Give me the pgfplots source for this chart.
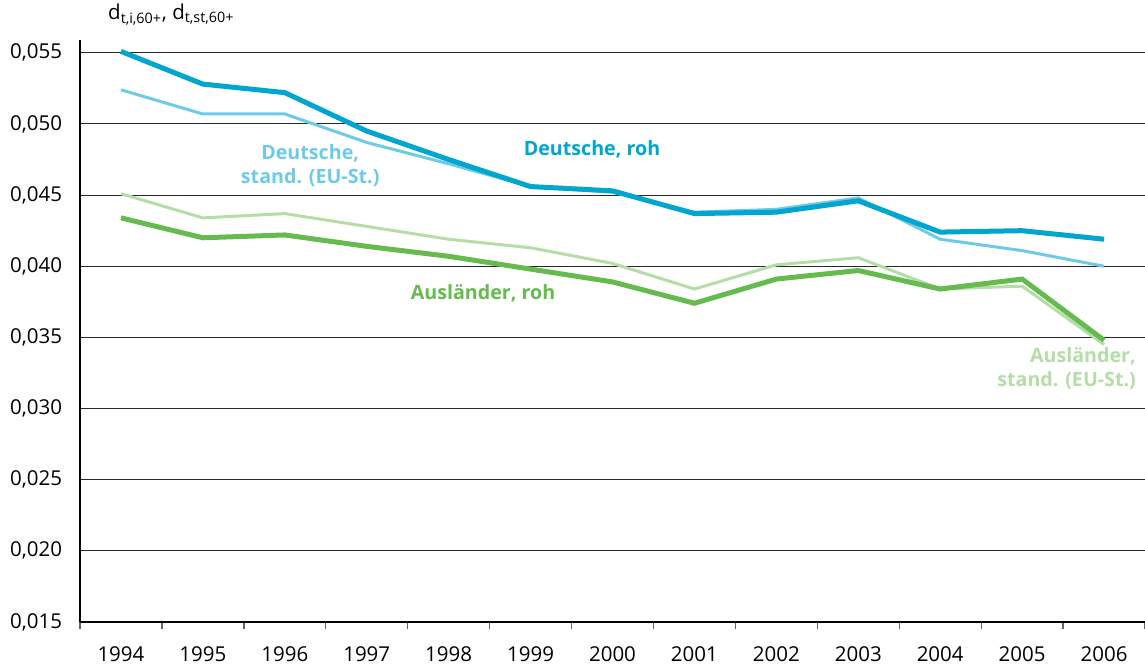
\documentclass[border=0pt]{standalone}
\usepackage{pgfplots}
\pgfplotsset{compat=1.18}
\usepackage{fontspec}
\setmainfont{Open Sans}
\definecolor{dblue}{RGB}{0,165,208}
\definecolor{lblue}{RGB}{110,203,232}
\definecolor{dgreen}{RGB}{102,187,79}
\definecolor{lgreen}{RGB}{181,221,168}
\definecolor{gridc}{RGB}{40,40,40}
\begin{document}
\begin{tikzpicture}
\useasboundingbox (-48pt,-29.4pt) rectangle (639pt,373.2pt);
\begin{axis}[
  at={(0,0)}, anchor=south west,
  scale only axis, width=639pt, height=349.2pt,
  xmin=-0.5, xmax=12.5, ymin=0.015, ymax=0.0559,
  axis x line*=bottom, axis y line*=left,
  axis line style={black, line width=0.8pt},
  xtick={0,...,12},
  xticklabels={1994,1995,1996,1997,1998,1999,2000,2001,2002,2003,2004,2005,2006},
  minor xtick={-0.5,0.5,...,12.5},
  major x tick style={draw=none},
  minor x tick style={gray!80!black, line width=0.8pt},
  minor tick length=4pt,
  tick align=outside,
  ytick={0.015,0.020,...,0.0551},
  major y tick style={draw=none},
  ymajorgrids, grid style={gridc, line width=0.6pt},
  yticklabel style={xshift=-3pt, /pgf/number format/fixed, /pgf/number format/fixed zerofill, /pgf/number format/precision=3, /pgf/number format/use comma, /pgf/number format/assume math mode=true},
  scaled y ticks=false,
  ticklabel style={font=\fontsize{12.3}{14}\selectfont},
  xticklabel style={yshift=-7pt},
  clip=false,
]
\addplot[lgreen, line width=1.8pt] coordinates {
(0,0.0451)(1,0.0434)(2,0.0437)(3,0.0428)(4,0.0419)(5,0.0413)(6,0.0402)(7,0.0384)(8,0.0401)(9,0.0406)(10,0.0384)(11,0.0386)(12,0.0345)};
\addplot[lblue, line width=1.8pt] coordinates {
(0,0.0524)(1,0.0507)(2,0.0507)(3,0.0487)(4,0.0472)(5,0.0456)(6,0.0452)(7,0.0438)(8,0.0440)(9,0.0448)(10,0.0419)(11,0.0411)(12,0.0400)};
\addplot[dgreen, line width=3pt] coordinates {
(0,0.0434)(1,0.0420)(2,0.0422)(3,0.0414)(4,0.0407)(5,0.0398)(6,0.0389)(7,0.0374)(8,0.0391)(9,0.0397)(10,0.0384)(11,0.0391)(12,0.0348)};
\addplot[dblue, line width=3pt] coordinates {
(0,0.0551)(1,0.0528)(2,0.0522)(3,0.0495)(4,0.0475)(5,0.0456)(6,0.0453)(7,0.0437)(8,0.0438)(9,0.0446)(10,0.0424)(11,0.0425)(12,0.0419)};
\node[dblue, font=\fontsize{11.8}{14.5}\selectfont\bfseries] at (axis cs:5.75,0.0482) {Deutsche, roh};
\node[lblue, font=\fontsize{11.8}{14.5}\selectfont\bfseries, align=center] at (axis cs:2.31,0.0471) {Deutsche,\\stand. (EU-St.)};
\node[dgreen, font=\fontsize{11.8}{14.5}\selectfont\bfseries] at (axis cs:4.42,0.0381) {Ausländer, roh};
\node[lgreen, font=\fontsize{11.8}{14.5}\selectfont\bfseries, align=right, anchor=east] at (axis cs:12.46,0.0328) {Ausländer,\\stand. (EU-St.)};
\node[anchor=west, font=\fontsize{12.3}{14}\selectfont, inner sep=0pt] at (axis cs:-0.16,0.0577) {d\textsubscript{t,i,60+}, d\textsubscript{t,st,60+}};
\end{axis}
\end{tikzpicture}
\end{document}
